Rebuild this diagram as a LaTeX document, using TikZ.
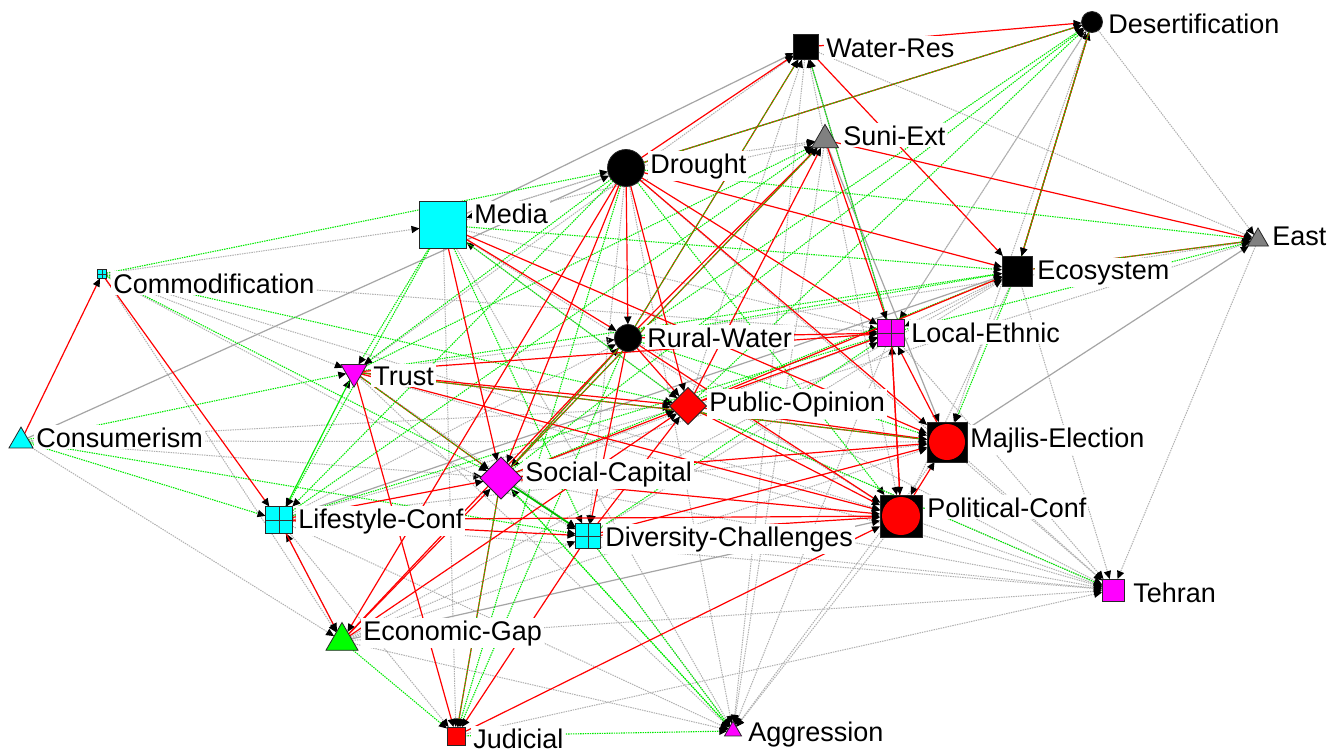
\documentclass[tikz,border=0pt]{standalone}
\usepackage{fontspec}
\setmainfont{Liberation Sans}
\usetikzlibrary{shapes.geometric,arrows.meta,backgrounds}
\definecolor{rd}{RGB}{255,0,0}
\definecolor{gn}{RGB}{0,235,0}
\definecolor{gy}{RGB}{175,175,175}
\definecolor{gys}{RGB}{165,165,165}
\definecolor{cy}{RGB}{0,255,255}
\definecolor{mg}{RGB}{255,0,255}
\definecolor{tg}{RGB}{128,128,128}
\tikzset{
  tip/.style={-{Triangle[length=4pt,width=3.6pt,color=black]}},
  er/.style={tip, draw=rd, line width=0.6pt},
  eg/.style={tip, draw=gn, line width=0.55pt, dash pattern=on 0.7pt off 0.5pt},
  ey/.style={tip, draw=gy, line width=0.5pt, dash pattern=on 0.7pt off 0.5pt},
  es/.style={tip, draw=gys, line width=0.6pt},
  erg/.style={tip, draw=rd, line width=0.6pt, postaction={draw=gn, line width=0.5pt, dash pattern=on 0.7pt off 0.5pt}},
  egs/.style={tip, draw=gn!80!black, line width=0.9pt},
  nd/.style={draw=black!85, line width=0.4pt, inner sep=0pt, outer sep=0pt},
  sq/.style={nd, rectangle, minimum size=#1},
  ci/.style={nd, circle, minimum size=#1},
  tri/.style={nd, regular polygon, regular polygon sides=3, minimum size=#1},
  itri/.style={tri=#1, shape border rotate=180},
  dia/.style={nd, diamond, minimum width=#1, minimum height=#1},
  cross/.style={path picture={\draw[black!80,line width=0.5pt]
      (path picture bounding box.north) -- (path picture bounding box.south)
      (path picture bounding box.west) -- (path picture bounding box.east);}},
  redin/.style={path picture={\fill[rd] (path picture bounding box.center) circle (#1);}},
  lbl/.style={anchor=base west, fill=white, inner sep=1pt, text=black,
      font=\fontsize{13.5pt}{16pt}\selectfont},
}
\begin{document}
\begin{tikzpicture}[x=0.5pt,y=-0.5pt]
\useasboundingbox (0,0) rectangle (1335,751);
% nodes
\node[sq=12.5pt, fill=black] (WR) at (806,47) {};
\node[ci=10.5pt, fill=black] (DE) at (1092,22) {};
\node[tri=15.6pt, fill=tg] (SE) at (825,140) {};
\node[ci=18.5pt, fill=black] (DR) at (626,168) {};
\node[sq=23.5pt, fill=cy] (ME) at (443,225) {};
\node[tri=12pt, fill=tg] (EA) at (1258,240) {};
\node[sq=15pt, fill=black] (EC) at (1017,271) {};
\node[sq=4.5pt, fill=cy, cross] (CO) at (102,274) {};
\node[ci=13.5pt, fill=black] (RW) at (628,338) {};
\node[sq=13.5pt, fill=mg, cross] (LE) at (891,333) {};
\node[itri=15pt, fill=mg] (TR) at (354,372) {};
\node[dia=18.5pt, fill=rd] (PO) at (688,406) {};
\node[sq=20pt, fill=black, redin=9pt] (MJ) at (947,442) {};
\node[tri=13.9pt, fill=cy] (CS) at (21,441) {};
\node[dia=21pt, fill=mg] (SC) at (501,478) {};
\node[sq=21pt, fill=black, redin=9.5pt] (PC) at (901,516) {};
\node[sq=13.5pt, fill=cy, cross] (LC) at (279,520) {};
\node[sq=12.5pt, fill=cy, cross] (DC) at (588,536) {};
\node[sq=11pt, fill=mg] (TE) at (1113,590) {};
\node[tri=18.5pt, fill=green] (EG) at (342,641) {};
\node[sq=9pt, fill=rd] (JU) at (456,736) {};
\node[tri=9.8pt, fill=mg] (AG) at (733,731) {};
% edges
\begin{pgfonlayer}{background}
\fill[white] (0,0) rectangle (1335,751);
% gray dotted
\foreach \a/\b in {ME/DE, WR/EA, DE/EA, DE/MJ, SE/WR, ME/JU, ME/AG, CS/EG, CS/SC, CS/MJ,
  CO/TR, CO/ME, CO/LE, CO/DC, CO/EG, EG/LC, EA/TE, MJ/TE, LE/TE, PC/TE, DC/TE, LC/TE,
  SC/TE, EG/TE, TR/TE, LC/AG, EG/AG, TR/AG, SE/AG, PC/AG, MJ/AG, LE/AG, DR/SE, ME/SE,
  DR/ME, PO/ME, TR/DC, LC/PO, LC/RW, EG/DC, TR/RW, LE/DE, PO/WR, WR/AG, ME/PC, DR/DC,
  DR/AG, SC/LE, LC/MJ, EG/MJ, DC/EC, RW/EA, SE/PC, EC/PC, EC/TE, EC/LE, ME/LE, CO/PC,
  DC/AG, RW/TE, PO/TE, DR/TE, CS/PO, LC/JU, JU/TE, EG/EC, SC/EA, DE/LE, DR/DE, TR/WR}
  \draw[ey] (\a) -- (\b);
% gray solid
\foreach \a/\b in {ME/WR, CS/DR, MJ/EA, LE/WR, SE/MJ, EG/PC, LC/EC}
  \draw[es] (\a) -- (\b);
% green dotted
\foreach \a/\b in {CS/LC, CS/DC, CS/TR, CO/PO, CO/SC, CO/DR, ME/LC, ME/TR, ME/PO, ME/DC,
  ME/EC, DR/LC, DR/JU, DR/PC, DR/EA, DR/TR, LE/EA, PO/DE, SC/DE, RW/DE, LC/TR, LC/SE,
  TR/SE, DC/AG, JU/AG, EG/JU, AG/SC, PO/TE, EC/MJ, RW/EC, TR/EC, SC/EC, SC/AG, RW/JU,
  LE/WR, LC/LE, DC/LE, RW/MJ, TR/LC}
  \draw[eg] (\a) -- (\b);
% red
\foreach \a/\b in {CS/CO, CO/LC, LC/EG, ME/SC, ME/RW, ME/MJ, DR/WR, DR/RW, DR/SC, DR/PO,
  DR/LE, DR/MJ, DR/EC, DR/EG, WR/DE, WR/EC, SE/EA, SE/LE, RW/SE, RW/LE, RW/PO, RW/DC,
  RW/PC, EG/RW, TR/PO, TR/PC, TR/LE, TR/JU, PO/MJ, PO/PC, PO/LE, PO/EC, SC/PO, SC/MJ,
  SC/PC, LC/SC, LC/DC, LC/PC, EG/SC, EG/PO, DC/JU, JU/PC, PC/MJ, PC/LE, LE/PC, MJ/LE,
  DC/PC, DC/MJ, PO/SE, DC/PO}
  \draw[er] (\a) -- (\b);
% red + green
\foreach \a/\b in {RW/WR, DR/DE, EC/DE, DE/EC, EC/EA, TR/SC, RW/SC, SC/SE, SC/JU, TR/MJ}
  \draw[erg] (\a) -- (\b);
% green solid
\draw[egs] (SC) -- (DC);
\end{pgfonlayer}
% labels
\node[lbl] (WRl) at (824,57) {Water-Res};
\node[lbl] (DEl) at (1106,33) {Desertification};
\node[lbl] (SEl) at (841,145) {Suni-Ext};
\node[lbl] (DRl) at (648,173) {Drought};
\node[lbl] (MEl) at (472,223) {Media};
\node[lbl] (EAl) at (1270,245) {East};
\node[lbl] (ECl) at (1035,279) {Ecosystem};
\node[lbl] (COl) at (111,293) {Commodification};
\node[lbl] (RWl) at (645,347) {Rural-Water};
\node[lbl] (LEl) at (909,342) {Local-Ethnic};
\node[lbl] (TRl) at (371,385) {Trust};
\node[lbl] (POl) at (707,411) {Public-Opinion};
\node[lbl] (MJl) at (968,447) {Majlis-Election};
\node[lbl] (CSl) at (34,447) {Consumerism};
\node[lbl] (SCl) at (523,481) {Social-Capital};
\node[lbl] (PCl) at (925,517) {Political-Conf};
\node[lbl] (LCl) at (296,528) {Lifestyle-Conf};
\node[lbl] (DCl) at (603,546) {Diversity-Challenges};
\node[lbl] (TEl) at (1131,602) {Tehran};
\node[lbl] (EGl) at (361,640) {Economic-Gap};
\node[lbl] (JUl) at (471,748) {Judicial};
\node[lbl] (AGl) at (746,741) {Aggression};
\end{tikzpicture}
\end{document}
